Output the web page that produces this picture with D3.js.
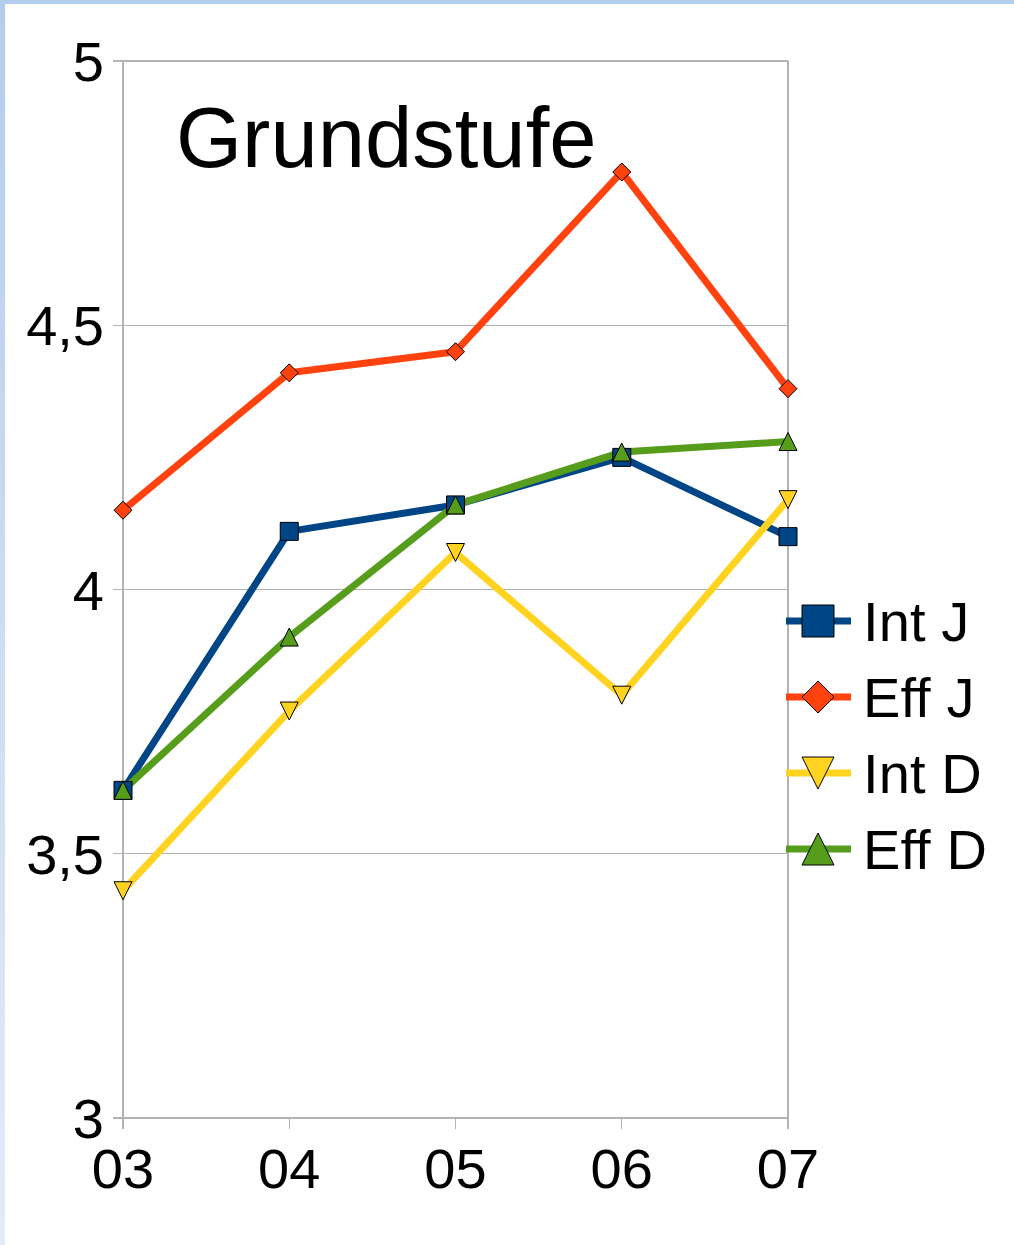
<!DOCTYPE html>
<html><head><meta charset="utf-8">
<script src="https://cdn.jsdelivr.net/npm/d3@7"></script>
<style>html,body{margin:0;padding:0;background:#fff;}svg{display:block;}svg text{font-variant-ligatures:none;font-feature-settings:"liga" 0, "clig" 0;}</style>
</head><body>
<script>
const years = ["03","04","05","06","07"];
const intJ = [3.62, 4.11, 4.16, 4.25, 4.10];
const effJ = [4.15, 4.41, 4.45, 4.79, 4.38];
const intD = [3.43, 3.77, 4.07, 3.80, 4.17];
const effD = [3.62, 3.91, 4.16, 4.26, 4.28];
const seriesNames = ["Int J","Eff J","Int D","Eff D"];
const yTicks = [3, 3.5, 4, 4.5, 5];
const yTickLabels = ["3","3,5","4","4,5","5"];
const title = "Grundstufe";

const W = 1014, H = 1245;
const svg = d3.select("body").append("svg").attr("width", W).attr("height", H)
  .style("font-family", "'Liberation Sans', Arial, sans-serif");

const defs = svg.append("defs");
const lg = defs.append("linearGradient").attr("id","lb").attr("x1",0).attr("y1",0).attr("x2",0).attr("y2",1);
lg.append("stop").attr("offset","0%").attr("stop-color","#b4cdee");
lg.append("stop").attr("offset","100%").attr("stop-color","#e4ebf6");
svg.append("rect").attr("x",0).attr("y",0).attr("width",5).attr("height",H).attr("fill","url(#lb)");
svg.append("rect").attr("x",0).attr("y",0).attr("width",W).attr("height",4).attr("fill","#b4cdee");

const x = d3.scalePoint().domain(years).range([123, 788]);
const y = d3.scaleLinear().domain([3, 5]).range([1118, 61]);

const gridC = "#b3b3b3";
svg.append("g").selectAll("line").data(yTicks).join("line")
  .attr("x1", 113).attr("x2", 788)
  .attr("y1", d => y(d)).attr("y2", d => y(d))
  .attr("stroke", gridC).attr("stroke-width", 1.3).attr("shape-rendering","crispEdges");
svg.append("line").attr("x1", 123).attr("x2", 123).attr("y1", y(5)).attr("y2", 1129)
  .attr("stroke", gridC).attr("stroke-width", 1.3).attr("shape-rendering","crispEdges");
svg.append("line").attr("x1", 788).attr("x2", 788).attr("y1", y(5)).attr("y2", 1129)
  .attr("stroke", gridC).attr("stroke-width", 1.3).attr("shape-rendering","crispEdges");
svg.append("g").selectAll("line").data(years.slice(1,4)).join("line")
  .attr("x1", d => x(d)).attr("x2", d => x(d)).attr("y1", 1118).attr("y2", 1129)
  .attr("stroke", gridC).attr("stroke-width", 1.3).attr("shape-rendering","crispEdges");

svg.append("g").selectAll("text").data(yTicks).join("text")
  .attr("x", 104).attr("y", d => y(d) + 20)
  .attr("text-anchor","end").attr("font-size", 56).attr("fill","#000")
  .text((d,i) => yTickLabels[i]);
svg.append("g").selectAll("text").data(years).join("text")
  .attr("x", d => x(d)).attr("y", 1188)
  .attr("text-anchor","middle").attr("font-size", 56).attr("fill","#000")
  .text(d => d);

svg.append("text").attr("x", 176).attr("y", 167).attr("font-size", 85).attr("fill","#000").text(title);

const colors = ["#004586","#ff420e","#ffd320","#579d1c"];
const shapes = ["square","diamond","down","up"];
const data = [intJ, effJ, intD, effD];

function markerPath(shape, s) {
  const h = s/2;
  if (shape === "square") return `M${-h},${-h}H${h}V${h}H${-h}Z`;
  if (shape === "diamond") return `M0,${-h}L${h},0L0,${h}L${-h},0Z`;
  if (shape === "down") return `M${-h},${-h}H${h}L0,${h}Z`;
  return `M0,${-h}L${h},${h}H${-h}Z`;
}

const line = d3.line().x((d,i) => x(years[i])).y(d => y(d));
data.forEach((vals, k) => {
  svg.append("path").datum(vals).attr("d", line).attr("fill","none")
    .attr("stroke", colors[k]).attr("stroke-width", 7).attr("stroke-linejoin","round");
});
data.forEach((vals, k) => {
  svg.append("g").selectAll("path").data(vals).join("path")
    .attr("transform", (d,i) => `translate(${x(years[i])},${y(d)})`)
    .attr("d", markerPath(shapes[k], 18))
    .attr("fill", colors[k]).attr("stroke","#000").attr("stroke-width",1);
});

const legY = [621, 697, 773, 849];
seriesNames.forEach((name, k) => {
  const g = svg.append("g").attr("transform", `translate(0,${legY[k]})`);
  g.append("line").attr("x1", 786).attr("x2", 851).attr("y1", 0).attr("y2", 0)
    .attr("stroke", colors[k]).attr("stroke-width", 7);
  g.append("path").attr("transform","translate(818,0)").attr("d", markerPath(shapes[k], 32))
    .attr("fill", colors[k]).attr("stroke","#000").attr("stroke-width",1);
  g.append("text").attr("x", 863).attr("y", 20).attr("font-size", 56).attr("fill","#000")
    .attr("letter-spacing", "0.1")
    .style("font-variant-ligatures","none").style("font-feature-settings","'liga' 0")
    .text(name);
});
</script>
</body></html>
